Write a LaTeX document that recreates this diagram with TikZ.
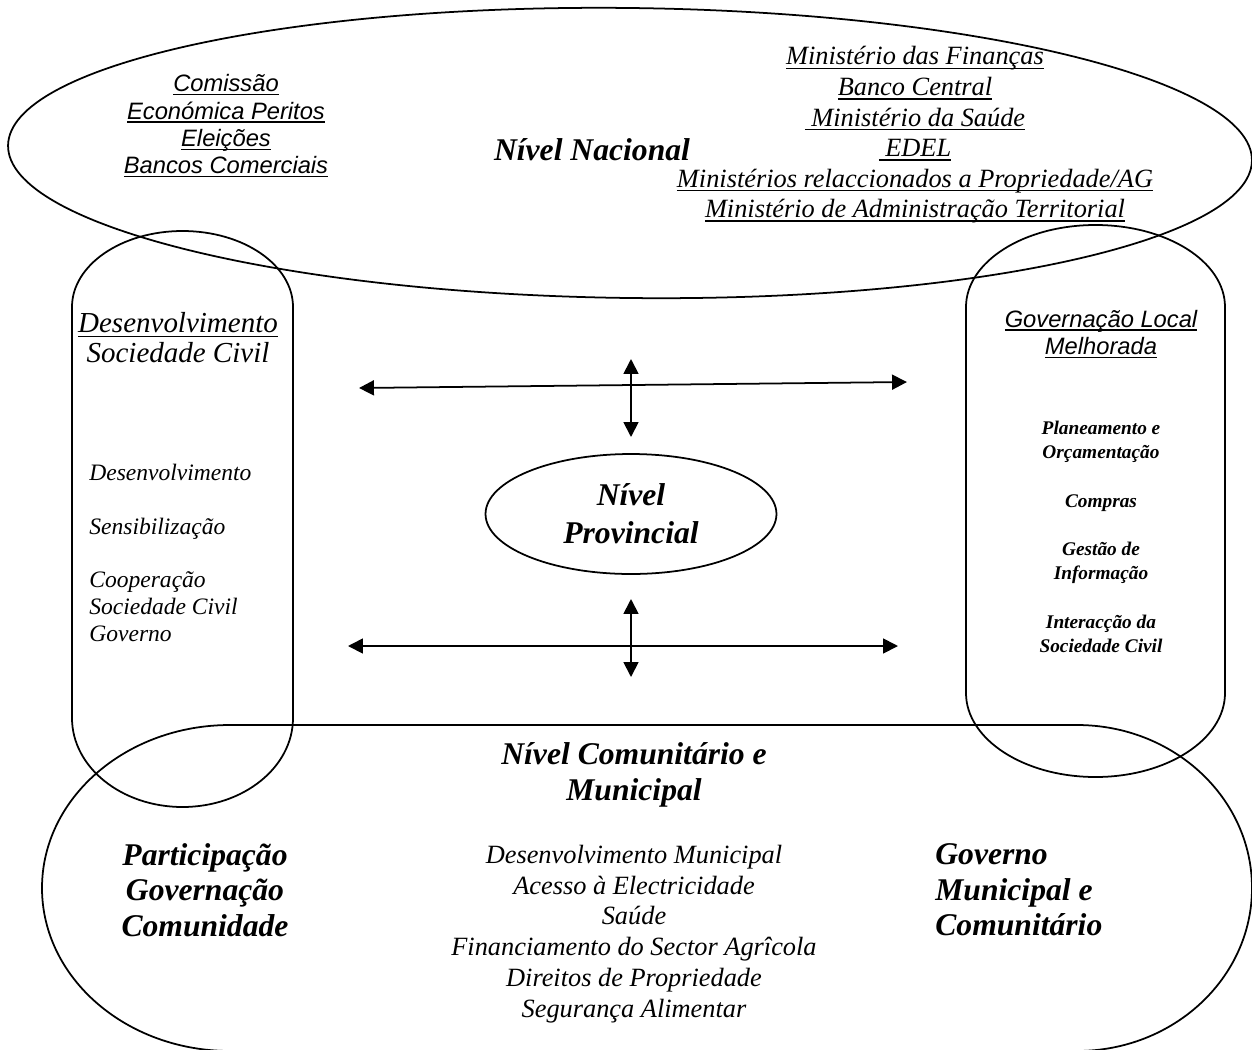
\documentclass[tikz,border=0pt]{standalone}
\usepackage{fontspec}
\setmainfont{Liberation Serif}
\newfontfamily\arialfont{Liberation Sans}
\usetikzlibrary{arrows.meta,shapes.geometric}
\newlength{\ulwidth}
\newcommand{\uln}[1]{\settowidth{\ulwidth}{#1}\rlap{#1}\rule[-0.15em]{\ulwidth}{0.8pt}}

\begin{document}
\begin{tikzpicture}[x=0.02cm, y=-0.02cm,
		outline/.style={line width=1pt},
		twoway/.style={line width=1pt, {Triangle[length=8.5pt,width=8.5pt]}-{Triangle[length=8.5pt,width=8.5pt]}},
		txt/.style={inner sep=0pt, align=center},
		bigtitle/.style={txt, font=\bfseries\itshape\fontsize{18}{20.4}\selectfont},
		arialtxt/.style={txt, font=\arialfont\itshape\fontsize{13.5}{15.6}\selectfont}]
	%%%%% START %%%%%
	\useasboundingbox (0,0) rectangle (1252,1049);
	\clip (0,0) rectangle (1252,1049);
	
	% national level
	\draw[outline, rotate around={-0.7:(630,153)}] (630,153) ellipse [x radius=622, y radius=145];
	
	% civil society (left) and local governance (right)
	\draw[outline] (72,307) -- (72,718) arc [start angle=180, end angle=0, x radius=110.5, y radius=89] -- (293,307) arc [start angle=0, end angle=-180, x radius=110.5, y radius=76] -- cycle;
	\draw[outline] (966,307) -- (966,693) arc [start angle=180, end angle=0, x radius=129.5, y radius=84] -- (1225,307) arc [start angle=0, end angle=-180, x radius=129.5, y radius=82] -- cycle;
	
	% community level
	\draw[outline] (230,725) -- (1077,725) arc [start angle=-90, end angle=90, x radius=175, y radius=163] -- (230,1051) arc [start angle=90, end angle=270, x radius=188, y radius=163] -- cycle;
	
	% texts, national
	\node[arialtxt] (comissao) at (226,126) {\uln{Comissão}\\\uln{Económica Peritos}\\\uln{Eleições}\\\uln{Bancos Comerciais}};
	\node[bigtitle] (nacional) at (592,150) {Nível Nacional};
	\node[txt, font=\itshape\fontsize{15}{17.4}\selectfont] (ministerios) at (915,135) {\uln{Ministério das Finanças}\\\uln{Banco Central}\\\uln{~Ministério da Saúde}\\\uln{~EDEL}\\\uln{Ministérios relaccionados a Propriedade/AG}\\\uln{Ministério de Administração Territorial}};
	
	% texts, sides
	\node[txt, font=\itshape\fontsize{16.5}{17}\selectfont] (sociedade) at (178,338) {\uln{Desenvolvimento}\\Sociedade Civil};
	\node[txt, align=left, anchor=west, font=\itshape\fontsize{13.4}{15.3}\selectfont] (accoes) at (89,553) {Desenvolvimento\\[15.3pt]Sensibilização\\[15.3pt]Cooperação\\Sociedade Civil\\Governo};
	\node[arialtxt] (governacao) at (1101,334) {\uln{Governação Local}\\\uln{Melhorada}};
	\node[txt, font=\bfseries\itshape\fontsize{11}{13.8}\selectfont] (areas) at (1101,537) {Planeamento e\\Orçamentação\\[13.8pt]Compras\\[13.8pt]Gestão de\\Informação\\[13.8pt]Interacção da\\Sociedade Civil};
	
	% provincial level and arrows
	\node[ellipse, draw, outline, minimum width=5.82cm, minimum height=2.4cm, bigtitle, font=\bfseries\itshape\fontsize{18}{21.5}\selectfont] (provincial) at (631,514) {Nível\\Provincial};
	\coordinate (upleft) at (359,388);
	\coordinate (upright) at (907,382);
	\coordinate (uptop) at (631,359);
	\coordinate (upbot) at (631,437);
	\coordinate (lowtop) at (631,599);
	\coordinate (lowbot) at (631,677);
	\coordinate (lowleft) at (348,646);
	\coordinate (lowright) at (898,646);
	\draw[twoway] (upleft) -- (upright);
	\draw[twoway] (uptop) -- (upbot);
	\draw[twoway] (lowtop) -- (lowbot);
	\draw[twoway] (lowleft) -- (lowright);
	
	% texts, community level
	\node[bigtitle] (comunitario) at (634,775) {Nível Comunitário e\\Municipal};
	\node[bigtitle, font=\bfseries\itshape\fontsize{18}{20.2}\selectfont] (participacao) at (205,890) {Participação\\Governação\\Comunidade};
	\node[bigtitle, align=left, anchor=west, font=\bfseries\itshape\fontsize{18}{20.2}\selectfont] (governo) at (935,890) {Governo\\Municipal e\\Comunitário};
	\node[txt, font=\itshape\fontsize{15}{17.5}\selectfont] (programas) at (634,934) {Desenvolvimento Municipal\\Acesso à Electricidade\\Saúde\\Financiamento do Sector Agrîcola\\Direitos de Propriedade\\Segurança Alimentar};
	
	%%%%% END %%%%%
\end{tikzpicture}
\end{document}
